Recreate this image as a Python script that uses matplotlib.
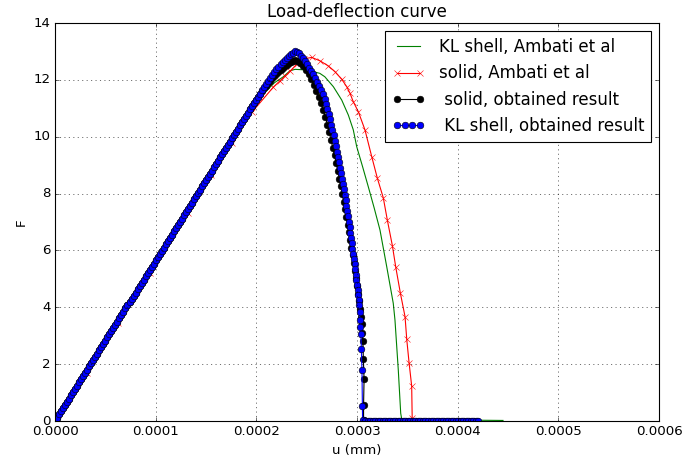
import matplotlib
matplotlib.use("Agg")
import matplotlib.pyplot as plt
from matplotlib.legend_handler import HandlerLine2D
import numpy as np

plt.style.use("classic")

# Displacements are listed in micro-millimetres (1e-6 mm) and converted below.
MICRO = 1e-6

# KL shell, Ambati et al
kl_ref_u = [0, 207, 218, 226.8, 233.4, 238.4, 250, 263, 268, 276.5, 284.8,
            291.4, 296.3, 299.7, 305.5, 311.2, 317, 322.8, 329.5, 336, 337.7,
            341, 343.4, 344.5, 445]
kl_ref_F = [0, 11.5, 11.9, 12.11, 12.32, 12.37, 12.35, 12.23, 12.11, 11.76,
            11.29, 10.76, 10.24, 9.65, 8.95, 8.24, 7.5, 6.72, 5.43, 4.14, 3.55,
            1.79, 0.27, 0.05, 0.02]

# solid, Ambati et al
solid_ref_u = [0, 31.5, 62.9, 94.4, 131.8, 155, 175.5, 196, 217, 223, 228.5,
               233.4, 240, 247.5, 255, 263.2, 271.5, 278.1, 284.8, 289.8, 293,
               296.3, 301.3, 307.9, 314.6, 320.2, 326.1, 330.1, 335.1, 338.4,
               343, 347.7, 349.4, 351.7, 354.3, 354.8]
solid_ref_F = [0, 1.70, 3.44, 5.22, 7.33, 8.64, 9.78, 10.88, 11.75, 11.95,
               12.13, 12.30, 12.55, 12.74, 12.79, 12.67, 12.49, 12.29, 12.02,
               11.76, 11.53, 11.23, 10.88, 10.24, 9.30, 8.54, 7.85, 7.07, 6.17,
               5.43, 4.51, 3.67, 2.87, 2.05, 1.23, 0.1]

# Elastic branch shared by both obtained results
rise_u = [0, 2, 4, 6, 8, 10, 12, 14, 16, 18, 20, 22, 24, 26, 28, 30, 32, 34,
          36, 38, 40, 42, 44, 46, 48, 50, 52, 54, 56, 58, 60, 62, 64, 66, 68,
          70, 72, 74, 76, 78, 80, 82, 84, 86, 88, 90, 92, 94, 96, 98, 100, 102,
          104, 106, 108, 110, 112, 114, 116, 118, 120, 122, 124, 126, 128, 130,
          132, 134, 136, 138, 140, 142, 144, 146, 148, 150, 152, 154, 156, 158,
          160, 162, 164, 166, 168, 170, 172, 174, 176, 178, 180, 182, 184, 186,
          188, 190, 192, 194, 196, 198, 200]
rise_F = [0, 0.11, 0.23, 0.34, 0.45, 0.57, 0.68, 0.79, 0.90, 1.02, 1.13, 1.24,
          1.36, 1.47, 1.58, 1.70, 1.81, 1.92, 2.03, 2.15, 2.26, 2.37, 2.49,
          2.60, 2.71, 2.83, 2.94, 3.05, 3.16, 3.28, 3.39, 3.50, 3.62, 3.73,
          3.84, 3.96, 4.07, 4.18, 4.29, 4.41, 4.52, 4.63, 4.75, 4.86, 4.97,
          5.09, 5.20, 5.31, 5.42, 5.54, 5.65, 5.76, 5.88, 5.99, 6.10, 6.22,
          6.33, 6.44, 6.55, 6.67, 6.78, 6.89, 7.01, 7.12, 7.23, 7.35, 7.46,
          7.57, 7.68, 7.80, 7.91, 8.02, 8.14, 8.25, 8.36, 8.48, 8.59, 8.70,
          8.81, 8.93, 9.04, 9.15, 9.27, 9.38, 9.49, 9.61, 9.72, 9.83, 9.94,
          10.06, 10.17, 10.28, 10.40, 10.51, 10.62, 10.74, 10.85, 10.96, 11.07,
          11.19, 11.30]

# solid, obtained result: peak, softening and residual branches
solid_u = [202, 204, 206, 208, 210, 212, 214, 216, 218, 220, 222, 224, 226,
           228, 230, 232, 234, 236, 238,
           240, 243, 246, 249, 252, 254.5, 257, 259.5, 262, 264.3, 266.5, 268.6,
           270.6, 272.5, 274.3, 276, 277.7, 279.3, 280.9, 282.4, 283.9, 285.3,
           286.7, 288.1, 289.4, 290.7, 292, 293.2, 294.4, 295.6, 296.7, 297.8,
           298.9, 300, 301, 302, 303, 303.9, 304.7, 305.3, 305.8, 306.3, 307,
           306.5, 306.5,
           309, 311.5, 314, 316.5, 319, 321.5, 324, 326.5, 329, 331.5, 334,
           336.5, 339, 341.5, 344, 346.5, 349, 351.5, 354, 356.5, 359, 361.5,
           364, 366.5, 369, 371.5, 374, 376.5, 379, 381.5, 384, 386.5, 389,
           391.5, 394, 396.5, 399, 401.5, 404, 406.5, 409, 411.5, 414, 416.5,
           419]
solid_F = [11.40, 11.50, 11.60, 11.70, 11.79, 11.88, 11.97, 12.06, 12.14,
           12.22, 12.29, 12.36, 12.43, 12.49, 12.54, 12.59, 12.64, 12.68, 12.70,
           12.67, 12.60, 12.50, 12.36, 12.20, 12.02, 11.83, 11.62, 11.40, 11.17,
           10.93, 10.68, 10.42, 10.15, 9.88, 9.61, 9.34, 9.07, 8.80, 8.53, 8.26,
           7.99, 7.72, 7.45, 7.18, 6.91, 6.64, 6.37, 6.10, 5.83, 5.56, 5.29,
           5.02, 4.75, 4.48, 4.21, 3.94, 3.67, 3.40, 3.10, 2.80, 2.17, 1.47,
           0.56, 0.03,
           0, 0, 0, 0, 0, 0, 0, 0, 0, 0, 0, 0, 0, 0, 0, 0, 0, 0, 0, 0, 0, 0, 0,
           0, 0, 0, 0, 0, 0, 0, 0, 0, 0, 0, 0, 0, 0, 0, 0, 0, 0, 0, 0, 0, 0]

# KL shell, obtained result: peak, softening and residual branches
kl_u = [202, 204, 206, 208, 210, 212, 214, 216, 218, 220, 222, 224, 226, 228,
        230, 232, 234, 236, 238,
        240, 242, 244, 246, 248, 250, 252, 254, 256.5, 258.5, 260.5, 262.5,
        264.3, 266, 267.7, 269.2, 270.6, 271.9, 273.1, 274.3, 275.5, 276.7,
        277.8, 278.9, 280, 281.1, 282.1, 283.1, 284.1, 285.1, 286, 286.9, 287.8,
        288.7, 289.5, 290.3, 291.1, 291.9, 292.7, 293.4, 294.1, 294.8, 295.5,
        296.2, 296.9, 297.5, 298.1, 298.7, 299.3, 299.9, 300.5, 301, 301.5, 302,
        302.5, 303, 303.4, 303.8, 304.3, 304.9, 305.3, 305.5,
        308, 310.5, 313, 315.5, 318, 320.5, 323, 325.5, 328, 330.5, 333, 335.5,
        338, 340.5, 343, 345.5, 348, 350.5, 353, 355.5, 358, 360.5, 363, 365.5,
        368, 370.5, 373, 375.5, 378, 380.5, 383, 385.5, 388, 390.5, 393, 395.5,
        398, 400.5, 403, 405.5, 408, 410.5, 413, 415.5, 418, 420]
kl_F = [11.41, 11.52, 11.63, 11.74, 11.85, 11.96, 12.07, 12.17, 12.27, 12.37,
        12.46, 12.55, 12.63, 12.71, 12.78, 12.85, 12.91, 12.96, 13.0,
        12.98, 12.93, 12.85, 12.76, 12.66, 12.55, 12.43, 12.31, 12.19, 12.06,
        11.93, 11.79, 11.64, 11.49, 11.33, 11.16, 10.99, 10.81, 10.62, 10.43,
        10.24, 10.05, 9.86, 9.67, 9.48, 9.29, 9.10, 8.91, 8.72, 8.53, 8.34,
        8.15, 7.96, 7.77, 7.58, 7.39, 7.20, 7.01, 6.82, 6.63, 6.44, 6.25, 6.06,
        5.87, 5.69, 5.51, 5.33, 5.15, 4.97, 4.79, 4.61, 4.43, 4.25, 4.07, 3.82,
        3.56, 3.32, 3.06, 2.55, 1.79, 0.54, 0.03,
        0, 0, 0, 0, 0, 0, 0, 0, 0, 0, 0, 0, 0, 0, 0, 0, 0, 0, 0, 0, 0, 0, 0, 0,
        0, 0, 0, 0, 0, 0, 0, 0, 0, 0, 0, 0, 0, 0, 0, 0, 0, 0, 0, 0, 0, 0]

x_ticks = [0.0, 0.0001, 0.0002, 0.0003, 0.0004, 0.0005, 0.0006]
x_tick_labels = ["0.0000", "0.0001", "0.0002", "0.0003", "0.0004", "0.0005", "0.0006"]
y_ticks = [0, 2, 4, 6, 8, 10, 12, 14]

fig = plt.figure(figsize=(685 / 80, 465 / 80), dpi=80)
ax = fig.add_axes([0.0803, 0.0946, 0.8818, 0.8559])

solid_all_u = np.array(rise_u + solid_u) * MICRO
solid_all_F = np.array(rise_F + solid_F)
kl_all_u = np.array(rise_u + kl_u) * MICRO
kl_all_F = np.array(rise_F + kl_F)

ax.plot(np.array(kl_ref_u) * MICRO, kl_ref_F, "g-", lw=1,
        label="KL shell, Ambati et al")
ax.plot(np.array(solid_ref_u) * MICRO, solid_ref_F, "r-x", lw=1, mec="r",
        label="solid, Ambati et al")
ax.plot(solid_all_u, solid_all_F, "k-o", lw=1,
        label=" solid, obtained result")
kl_line, = ax.plot(kl_all_u, kl_all_F, "b-o", lw=1,
                   label=" KL shell, obtained result")

ax.set_xlim(0, 0.0006)
ax.set_ylim(0, 14)
ax.set_xticks(x_ticks)
ax.set_xticklabels(x_tick_labels)
ax.set_yticks(y_ticks)
ax.grid(True)
ax.set_title("Load-deflection curve", fontsize=15)
ax.set_xlabel("u (mm)")
ax.set_ylabel("F")
ax.legend(loc="upper right", fontsize=15,
          handler_map={kl_line: HandlerLine2D(numpoints=4)})

fig.savefig("out.png", dpi=80)
